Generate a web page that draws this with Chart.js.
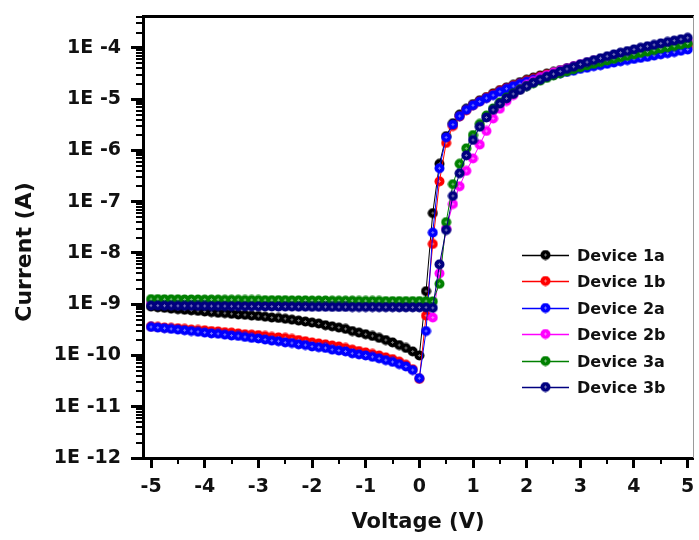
<!DOCTYPE html>
<html>
<head>
<meta charset="utf-8">
<script src="https://cdn.jsdelivr.net/npm/chart.js@4.4.1/dist/chart.umd.min.js"></script>
<style>
  html, body { margin: 0; padding: 0; background: #fff; }
  #wrap { width: 699px; height: 540px; }
</style>
</head>
<body>
<div id="wrap"><canvas id="ivChart" width="699" height="540"></canvas></div>
<script>
// voltage sweep (V)
const voltage = [
  -5, -4.875, -4.75, -4.625, -4.5, -4.375, -4.25, -4.125,
  -4, -3.875, -3.75, -3.625, -3.5, -3.375, -3.25, -3.125,
  -3, -2.875, -2.75, -2.625, -2.5, -2.375, -2.25, -2.125,
  -2, -1.875, -1.75, -1.625, -1.5, -1.375, -1.25, -1.125,
  -1, -0.875, -0.75, -0.625, -0.5, -0.375, -0.25, -0.125,
  0,
  0.125, 0.25, 0.375, 0.5, 0.625, 0.75, 0.875, 1,
  1.125, 1.25, 1.375, 1.5, 1.625, 1.75, 1.875, 2,
  2.125, 2.25, 2.375, 2.5, 2.625, 2.75, 2.875, 3,
  3.125, 3.25, 3.375, 3.5, 3.625, 3.75, 3.875, 4,
  4.125, 4.25, 4.375, 4.5, 4.625, 4.75, 4.875, 5
];

// current (A) for each device, same order as voltage
const device1a = [
  9.0e-10, 8.7e-10, 8.5e-10, 8.2e-10, 8.0e-10, 7.8e-10, 7.6e-10, 7.4e-10,
  7.2e-10, 7.0e-10, 6.8e-10, 6.7e-10, 6.5e-10, 6.3e-10, 6.2e-10, 6.0e-10,
  5.9e-10, 5.7e-10, 5.5e-10, 5.4e-10, 5.2e-10, 5.0e-10, 4.8e-10, 4.6e-10,
  4.4e-10, 4.2e-10, 3.9e-10, 3.7e-10, 3.5e-10, 3.3e-10, 3.0e-10, 2.8e-10,
  2.6e-10, 2.4e-10, 2.2e-10, 2.0e-10, 1.8e-10, 1.6e-10, 1.4e-10, 1.2e-10,
  1.0e-10,
  1.8e-9, 6.0e-8, 5.5e-7, 1.9e-6, 3.4e-6, 5.0e-6, 6.5e-6, 8.0e-6,
  9.5e-6, 1.1e-5, 1.3e-5, 1.5e-5, 1.7e-5, 1.9e-5, 2.15e-5, 2.4e-5,
  2.65e-5, 2.9e-5, 3.15e-5, 3.4e-5, 3.7e-5, 4.0e-5, 4.3e-5, 4.6e-5,
  4.9e-5, 5.3e-5, 5.6e-5, 6.0e-5, 6.4e-5, 6.8e-5, 7.2e-5, 7.6e-5,
  8.1e-5, 8.6e-5, 9.1e-5, 9.6e-5, 1.02e-4, 1.08e-4, 1.14e-4, 1.2e-4
];
const device1b = [
  3.7e-10, 3.6e-10, 3.5e-10, 3.45e-10, 3.4e-10, 3.3e-10, 3.2e-10, 3.15e-10,
  3.1e-10, 3.0e-10, 2.95e-10, 2.85e-10, 2.8e-10, 2.7e-10, 2.6e-10, 2.55e-10,
  2.5e-10, 2.4e-10, 2.3e-10, 2.25e-10, 2.2e-10, 2.1e-10, 2.0e-10, 1.9e-10,
  1.8e-10, 1.72e-10, 1.65e-10, 1.57e-10, 1.5e-10, 1.4e-10, 1.3e-10, 1.22e-10,
  1.15e-10, 1.07e-10, 1.0e-10, 9.2e-11, 8.5e-11, 7.6e-11, 6.6e-11, 5.4e-11,
  3.5e-11,
  6.0e-10, 1.5e-8, 2.5e-7, 1.4e-6, 3.0e-6, 4.6e-6, 6.1e-6, 7.6e-6,
  9.1e-6, 1.07e-5, 1.25e-5, 1.45e-5, 1.65e-5, 1.85e-5, 2.05e-5, 2.3e-5,
  2.5e-5, 2.75e-5, 3.0e-5, 3.2e-5, 3.45e-5, 3.7e-5, 3.95e-5, 4.2e-5,
  4.5e-5, 4.8e-5, 5.1e-5, 5.4e-5, 5.7e-5, 6.0e-5, 6.4e-5, 6.8e-5,
  7.2e-5, 7.6e-5, 8.0e-5, 8.4e-5, 8.9e-5, 9.4e-5, 9.9e-5, 1.05e-4
];
const device2a = [
  3.6e-10, 3.5e-10, 3.4e-10, 3.3e-10, 3.2e-10, 3.1e-10, 3.0e-10, 2.9e-10,
  2.8e-10, 2.7e-10, 2.65e-10, 2.55e-10, 2.45e-10, 2.4e-10, 2.3e-10, 2.2e-10,
  2.15e-10, 2.05e-10, 1.95e-10, 1.9e-10, 1.8e-10, 1.75e-10, 1.65e-10, 1.6e-10,
  1.5e-10, 1.45e-10, 1.4e-10, 1.3e-10, 1.25e-10, 1.2e-10, 1.1e-10, 1.05e-10,
  1.0e-10, 9.4e-11, 8.8e-11, 8.1e-11, 7.5e-11, 6.8e-11, 6.1e-11, 5.2e-11,
  3.6e-11,
  3.0e-10, 2.5e-8, 4.5e-7, 1.8e-6, 3.2e-6, 4.7e-6, 6.2e-6, 7.6e-6,
  9.0e-6, 1.05e-5, 1.2e-5, 1.4e-5, 1.6e-5, 1.8e-5, 2.0e-5, 2.2e-5,
  2.4e-5, 2.6e-5, 2.8e-5, 3.0e-5, 3.2e-5, 3.4e-5, 3.6e-5, 3.9e-5,
  4.1e-5, 4.4e-5, 4.6e-5, 4.9e-5, 5.2e-5, 5.5e-5, 5.8e-5, 6.1e-5,
  6.4e-5, 6.7e-5, 7.1e-5, 7.5e-5, 7.9e-5, 8.3e-5, 8.8e-5, 9.3e-5
];
const device2b = [
  1.08e-9, 1.08e-9, 1.08e-9, 1.07e-9, 1.07e-9, 1.07e-9, 1.07e-9, 1.06e-9,
  1.06e-9, 1.06e-9, 1.06e-9, 1.06e-9, 1.05e-9, 1.05e-9, 1.05e-9, 1.05e-9,
  1.05e-9, 1.05e-9, 1.04e-9, 1.04e-9, 1.04e-9, 1.04e-9, 1.04e-9, 1.04e-9,
  1.03e-9, 1.03e-9, 1.03e-9, 1.03e-9, 1.03e-9, 1.03e-9, 1.02e-9, 1.02e-9,
  1.02e-9, 1.02e-9, 1.02e-9, 1.02e-9, 1.02e-9, 1.01e-9, 1.01e-9, 1.01e-9,
  1.0e-9,
  9.5e-10, 5.5e-10, 4.0e-9, 3.0e-8, 9.0e-8, 2.0e-7, 4.0e-7, 7.0e-7,
  1.3e-6, 2.4e-6, 4.2e-6, 6.5e-6, 9.2e-6, 1.2e-5, 1.55e-5, 1.9e-5,
  2.25e-5, 2.6e-5, 2.95e-5, 3.3e-5, 3.65e-5, 4.0e-5, 4.4e-5, 4.8e-5,
  5.2e-5, 5.6e-5, 6.0e-5, 6.5e-5, 7.0e-5, 7.5e-5, 8.0e-5, 8.6e-5,
  9.2e-5, 9.8e-5, 1.04e-4, 1.1e-4, 1.17e-4, 1.24e-4, 1.31e-4, 1.38e-4
];
const device3a = [
  1.26e-9, 1.26e-9, 1.25e-9, 1.25e-9, 1.25e-9, 1.24e-9, 1.24e-9, 1.24e-9,
  1.23e-9, 1.23e-9, 1.23e-9, 1.22e-9, 1.22e-9, 1.22e-9, 1.21e-9, 1.21e-9,
  1.21e-9, 1.2e-9, 1.2e-9, 1.2e-9, 1.2e-9, 1.19e-9, 1.19e-9, 1.19e-9,
  1.18e-9, 1.18e-9, 1.18e-9, 1.17e-9, 1.17e-9, 1.17e-9, 1.17e-9, 1.16e-9,
  1.16e-9, 1.16e-9, 1.16e-9, 1.15e-9, 1.15e-9, 1.15e-9, 1.15e-9, 1.15e-9,
  1.15e-9,
  1.15e-9, 1.14e-9, 2.5e-9, 4.0e-8, 2.2e-7, 5.5e-7, 1.1e-6, 2.0e-6,
  3.3e-6, 4.8e-6, 6.6e-6, 8.6e-6, 1.08e-5, 1.3e-5, 1.55e-5, 1.8e-5,
  2.05e-5, 2.3e-5, 2.6e-5, 2.9e-5, 3.2e-5, 3.5e-5, 3.85e-5, 4.2e-5,
  4.55e-5, 4.9e-5, 5.3e-5, 5.7e-5, 6.1e-5, 6.6e-5, 7.0e-5, 7.5e-5,
  8.0e-5, 8.5e-5, 9.1e-5, 9.7e-5, 1.03e-4, 1.09e-4, 1.16e-4, 1.23e-4
];
const device3b = [
  9.4e-10, 9.4e-10, 9.35e-10, 9.35e-10, 9.3e-10, 9.3e-10, 9.3e-10, 9.25e-10,
  9.25e-10, 9.2e-10, 9.2e-10, 9.2e-10, 9.15e-10, 9.15e-10, 9.1e-10, 9.1e-10,
  9.1e-10, 9.05e-10, 9.05e-10, 9.0e-10, 9.0e-10, 9.0e-10, 8.95e-10, 8.95e-10,
  8.9e-10, 8.9e-10, 8.9e-10, 8.85e-10, 8.85e-10, 8.85e-10, 8.8e-10, 8.8e-10,
  8.8e-10, 8.8e-10, 8.75e-10, 8.75e-10, 8.75e-10, 8.7e-10, 8.7e-10, 8.7e-10,
  8.7e-10,
  8.7e-10, 8.5e-10, 6.0e-9, 2.8e-8, 1.3e-7, 3.6e-7, 8.0e-7, 1.6e-6,
  2.9e-6, 4.4e-6, 6.2e-6, 8.2e-6, 1.04e-5, 1.27e-5, 1.52e-5, 1.8e-5,
  2.1e-5, 2.4e-5, 2.75e-5, 3.1e-5, 3.5e-5, 3.9e-5, 4.3e-5, 4.8e-5,
  5.3e-5, 5.8e-5, 6.3e-5, 6.9e-5, 7.5e-5, 8.1e-5, 8.7e-5, 9.4e-5,
  1.01e-4, 1.08e-4, 1.15e-4, 1.23e-4, 1.31e-4, 1.39e-4, 1.48e-4, 1.58e-4
];

const seriesLabels = ['Device 1a', 'Device 1b', 'Device 2a', 'Device 2b', 'Device 3a', 'Device 3b'];
const seriesData = [device1a, device1b, device2a, device2b, device3a, device3b];
const seriesColors = ['#000000', '#ff0000', '#0000ff', '#ff00ff', '#008000', '#000080'];

const xTickValues = [-5, -4, -3, -2, -1, 0, 1, 2, 3, 4, 5];
const yTickValues = [1e-12, 1e-11, 1e-10, 1e-9, 1e-8, 1e-7, 1e-6, 1e-5, 1e-4];

const FONT = "'DejaVu Sans', sans-serif";
Chart.defaults.font.family = FONT;
Chart.defaults.color = '#111';

// filled round marker with a faint white cross, Origin style
function markerImage(color) {
  const c = document.createElement('canvas');
  c.width = 11; c.height = 11;
  const g = c.getContext('2d');
  g.fillStyle = color;
  g.beginPath();
  g.arc(5.5, 5.5, 5, 0, Math.PI * 2);
  g.fill();
  g.fillStyle = 'rgba(255,255,255,0.45)';
  g.fillRect(5, 4, 1, 3);
  g.fillRect(4, 5, 1, 1);
  g.fillRect(6, 5, 1, 1);
  return c;
}

const datasets = seriesLabels.map((label, i) => ({
  label: label,
  data: voltage.map((v, k) => ({ x: v, y: seriesData[i][k] })),
  borderColor: seriesColors[i],
  backgroundColor: seriesColors[i],
  borderWidth: 1,
  pointStyle: markerImage(seriesColors[i]),
  pointRadius: 5,
  tension: 0,
  order: seriesLabels.length - 1 - i   // later devices drawn on top
}));

// no extra room for edge labels: keep the plot frame fixed
function noEdgePadding(s) {
  s.paddingLeft = 0; s.paddingRight = 0;
  s.paddingTop = 0; s.paddingBottom = 0;
}

// minor ticks, top/right frame, rotated y title
const frameAndTicks = {
  id: 'frameAndTicks',
  afterDraw(chart) {
    const { ctx, chartArea: a, scales: { x, y } } = chart;
    ctx.save();
    ctx.strokeStyle = '#000';
    ctx.lineWidth = 2;
    ctx.beginPath();
    yTickValues.forEach(dec => {
      for (let m = 2; m <= 9; m++) {
        const v = dec * m;
        if (v > y.max) break;
        const py = Math.round(y.getPixelForValue(v));
        ctx.moveTo(a.left - 7, py);
        ctx.lineTo(a.left, py);
      }
    });
    for (let v = -4.5; v <= 4.5; v += 1) {
      const px = Math.round(x.getPixelForValue(v));
      ctx.moveTo(px, a.bottom);
      ctx.lineTo(px, a.bottom + 6);
    }
    ctx.stroke();

    ctx.lineWidth = 3;
    ctx.beginPath();
    ctx.moveTo(a.left - 1, a.top + 0.5);
    ctx.lineTo(a.right + 1, a.top + 0.5);
    ctx.stroke();
    ctx.strokeStyle = '#9a9a9a';
    ctx.lineWidth = 1;
    ctx.beginPath();
    ctx.moveTo(a.right + 0.5, a.top);
    ctx.lineTo(a.right + 0.5, a.bottom);
    ctx.stroke();

    ctx.translate(25, 252);
    ctx.rotate(-Math.PI / 2);
    ctx.font = 'bold 22px ' + FONT;
    ctx.fillStyle = '#111';
    ctx.textAlign = 'center';
    ctx.textBaseline = 'middle';
    ctx.fillText('Current (A)', 0, 0);
    ctx.restore();
  }
};

// legend box inside the plot, lower right
const insideLegend = {
  id: 'insideLegend',
  afterDraw(chart) {
    const { ctx, chartArea: a } = chart;
    const x0 = a.right - 171, y0 = a.top + 239, rowH = 26.4;
    ctx.save();
    ctx.font = 'bold 16px ' + FONT;
    ctx.textBaseline = 'middle';
    ctx.fillStyle = '#111';
    chart.data.datasets.forEach((ds, i) => {
      const yy = Math.round(y0 + i * rowH) + 0.5;
      ctx.strokeStyle = ds.borderColor;
      ctx.lineWidth = 1.5;
      ctx.beginPath();
      ctx.moveTo(x0, yy);
      ctx.lineTo(x0 + 47, yy);
      ctx.stroke();
      ctx.drawImage(ds.pointStyle, x0 + 18, yy - 6);
      ctx.fillText(ds.label, x0 + 55, yy + 1);
    });
    ctx.restore();
  }
};

new Chart(document.getElementById('ivChart'), {
  type: 'line',
  data: { datasets: datasets },
  plugins: [frameAndTicks, insideLegend],
  options: {
    responsive: false,
    animation: false,
    devicePixelRatio: 1,
    layout: { padding: { top: 16, right: 5, left: 0, bottom: 0 } },
    plugins: {
      legend: { display: false },
      tooltip: { enabled: false }
    },
    scales: {
      x: {
        type: 'linear',
        position: 'bottom',
        min: -5.15,
        max: 5.1,
        afterBuildTicks: s => { s.ticks = xTickValues.map(v => ({ value: v })); },
        afterFit: s => { s.height = 82; noEdgePadding(s); },
        ticks: {
          font: { size: 19, weight: 'bold' },
          color: '#111',
          padding: 8,
          maxRotation: 0,
          autoSkip: false,
          callback: v => String(v)
        },
        grid: { drawOnChartArea: false, tickLength: 10, tickWidth: 3, tickColor: '#000' },
        border: { display: true, width: 3, color: '#000' },
        title: {
          display: true,
          text: 'Voltage (V)',
          font: { size: 21, weight: 'bold' },
          color: '#111',
          padding: { top: 0, bottom: 5 }
        }
      },
      y: {
        type: 'logarithmic',
        position: 'left',
        min: 1e-12,
        max: 4.2e-4,
        afterBuildTicks: s => { s.ticks = yTickValues.map(v => ({ value: v })); },
        afterFit: s => { s.width = 143; noEdgePadding(s); },
        ticks: {
          font: { size: 19, weight: 'bold' },
          color: '#111',
          padding: 10,
          autoSkip: false,
          callback: v => '1E ' + Math.round(Math.log10(v))
        },
        grid: { drawOnChartArea: false, tickLength: 12, tickWidth: 3, tickColor: '#000' },
        border: { display: true, width: 3, color: '#000' }
      }
    }
  }
});
</script>
</body>
</html>
